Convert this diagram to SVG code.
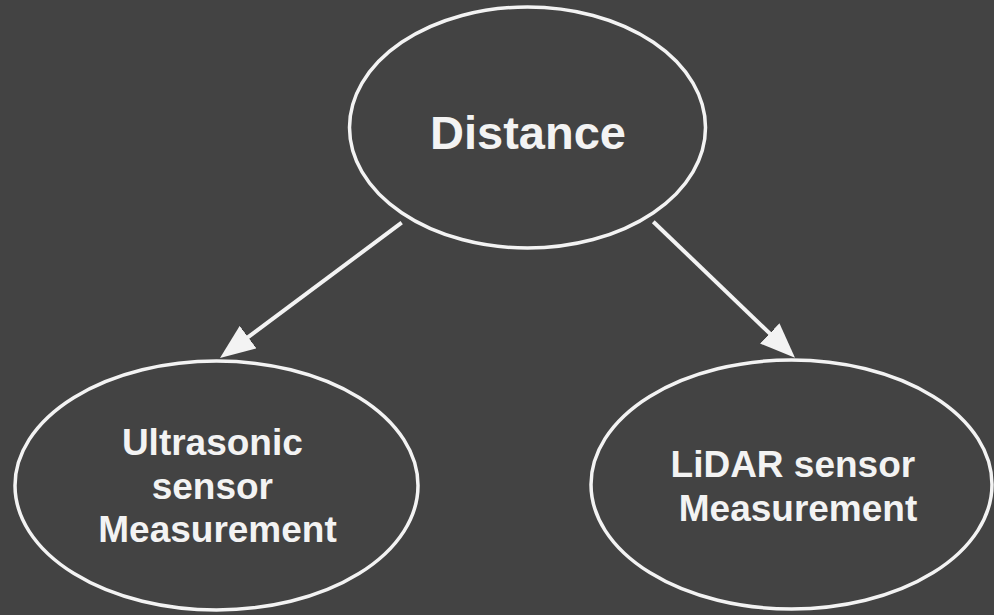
<svg xmlns="http://www.w3.org/2000/svg" width="994" height="615" viewBox="0 0 994 615">
  <style>
    .node { fill: #434343; stroke: #f3f3f3; stroke-width: 3.5; }
    .lbl { fill: #f3f3f3; font-family: "Liberation Sans", Arial, sans-serif; font-weight: bold; text-anchor: middle; }
    .edge { stroke: #f3f3f3; stroke-width: 4; fill: none; marker-end: url(#arrow); }
  </style>
  <defs>
    <marker id="arrow" markerUnits="userSpaceOnUse" viewBox="0 0 35 28" refX="10" refY="14" markerWidth="35" markerHeight="28" orient="auto">
      <path d="M0,0 L35,14 L0,28 Z" fill="#f3f3f3"/>
    </marker>
  </defs>
  <rect width="994" height="615" fill="#434343"/>
  <g id="connectors">
    <line class="edge" x1="401.7" y1="222.7" x2="240.05" y2="343.07"/>
    <line class="edge" x1="653.3" y1="221.7" x2="776.96" y2="340.39"/>
  </g>
  <g id="distance">
    <ellipse class="node" cx="527.5" cy="127.5" rx="178" ry="120.5"/>
    <text class="lbl" x="528" y="149" font-size="47">Distance</text>
  </g>
  <g id="ultrasonic">
    <ellipse class="node" cx="216.5" cy="485.5" rx="201.5" ry="124.5"/>
    <text class="lbl" font-size="37">
      <tspan x="217.5" y="455">Ultrasonic</tspan>
      <tspan x="217.5" y="498.5">sensor</tspan>
      <tspan x="217.5" y="542">Measurement</tspan>
    </text>
  </g>
  <g id="lidar">
    <ellipse class="node" cx="791.5" cy="484.5" rx="200.5" ry="124.5"/>
    <text class="lbl" font-size="37">
      <tspan x="798" y="477">LiDAR sensor</tspan>
      <tspan x="798" y="521">Measurement</tspan>
    </text>
  </g>
</svg>
